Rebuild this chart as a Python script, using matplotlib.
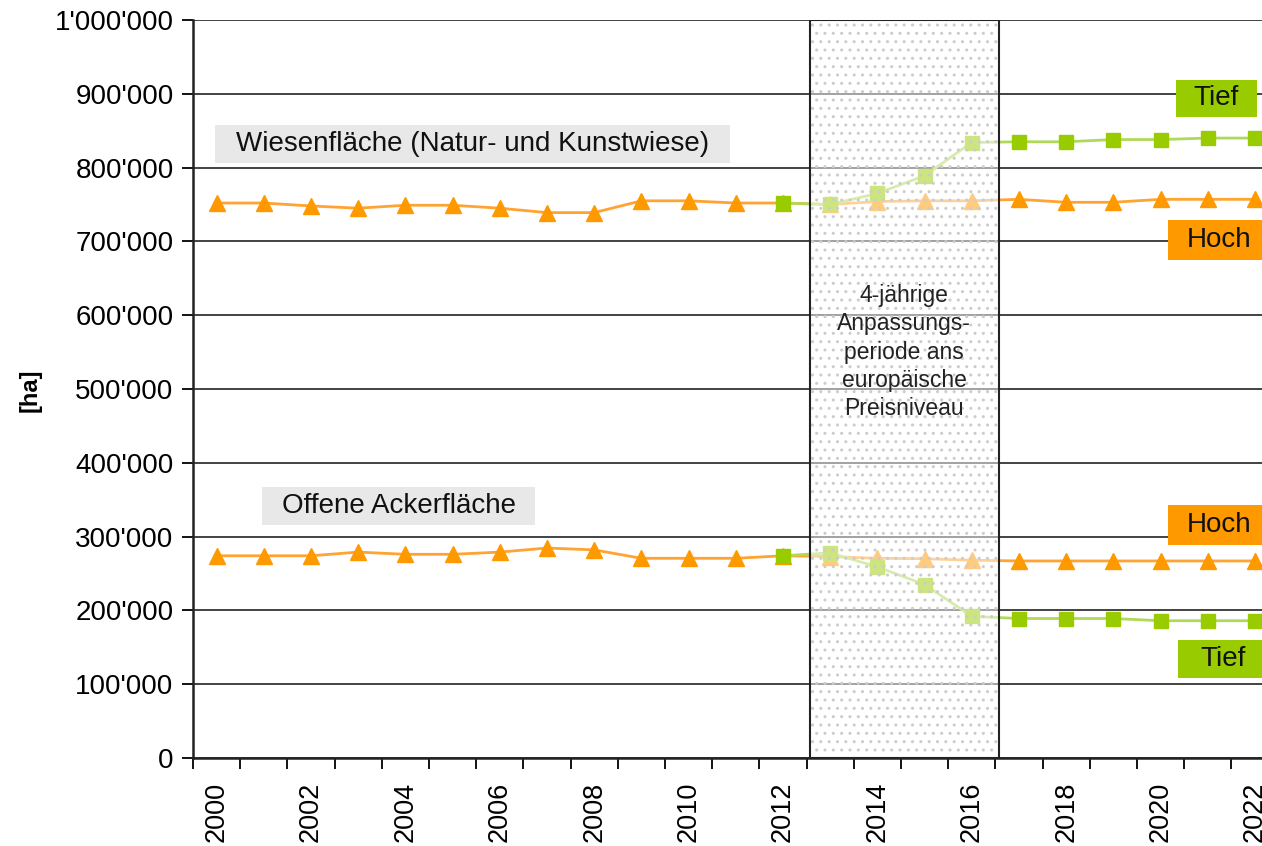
import matplotlib
matplotlib.use("Agg")
import matplotlib.pyplot as plt
from matplotlib.patches import Rectangle
from matplotlib.ticker import FuncFormatter

plt.rcParams['font.family'] = ['Liberation Sans', 'DejaVu Sans']

years = list(range(2000, 2023))
year_labels = [str(y) if y % 2 == 0 else "" for y in years]

# Wiesenflaeche (Natur- und Kunstwiese)
wiese_hoch = [752000, 752000, 748000, 745000, 749000, 749000, 745000, 739000, 739000,
              755000, 755000, 752000, 752000, 750000, 754000, 755000, 755000, 757000,
              753000, 753000, 757000, 757000, 757000]
wiese_tief = [752000, 750000, 765000, 789000, 834000, 835000, 835000, 838000, 838000,
              840000, 840000]

# Offene Ackerflaeche
acker_hoch = [274000, 274000, 274000, 279000, 276000, 276000, 279000, 284500, 282000,
              270600, 270600, 270600, 274000, 273000, 270600, 270000, 268000, 267000,
              267000, 267000, 267000, 267000, 267000]
acker_tief = [274000, 278000, 259000, 235000, 192000, 189000, 189000, 189000, 186000,
              186000, 186000]

orange = "#ff9900"
orange_line = "#ffa333"
green = "#99cc00"
green_line = "#b0d95a"

x_all = list(range(len(years)))
x_tief = x_all[12:]

fig = plt.figure(figsize=(12.62, 8.46), dpi=100)
ax = fig.add_axes([193 / 1262, 1 - 758 / 846, 1 - 193 / 1262, (758 - 20) / 846])

for hoch, tief in [(wiese_hoch, wiese_tief), (acker_hoch, acker_tief)]:
    ax.plot(x_all, hoch, color=orange_line, lw=2, marker="^", ms=11,
            mfc=orange, mec=orange, zorder=3)
    ax.plot(x_tief, tief, color=green_line, lw=2, marker="s", ms=10,
            mfc=green, mec=green, zorder=4)

ax.set_yticks(range(0, 1000001, 100000))
ax.yaxis.set_major_formatter(FuncFormatter(lambda v, p: f"{int(v):,}".replace(",", "'")))
ax.grid(axis="y", color="#222222", lw=1.2, zorder=1)
ax.set_axisbelow(True)

ax.set_xticks([i - 0.5 for i in range(len(years) + 1)])
ax.set_xticklabels([])
ax.set_xticks(x_all, minor=True)
ax.set_xticklabels(year_labels, minor=True, rotation=90, fontsize=19.5)
ax.tick_params(axis="x", which="major", length=8, width=1.3, direction="out")
ax.tick_params(axis="x", which="minor", length=0, pad=17)
ax.tick_params(axis="y", length=8, width=1.3, labelsize=20, pad=6)

# limits after ticks so the tick list does not widen them
ax.set_xlim(-0.5, 22.15)
ax.set_ylim(0, 1000000)

for s in ["top", "right"]:
    ax.spines[s].set_visible(False)
for s in ["left", "bottom"]:
    ax.spines[s].set_linewidth(1.8)
    ax.spines[s].set_color("#222222")

# 4-year adjustment period
ax.add_patch(Rectangle((12.57, 0), 4, 1000000, facecolor=(1, 1, 1, 0.5),
                       edgecolor="#cccccc", hatch="..", lw=0, zorder=5))
ax.add_patch(Rectangle((12.57, 0), 4, 1000000, facecolor="none",
                       edgecolor="#222222", lw=1.5, zorder=6))
ax.text(14.57, 550000, "4-jährige\nAnpassungs-\nperiode ans\neuropäische\nPreisniveau",
        ha="center", va="center", fontsize=16.5, color="#222222", linespacing=1.3, zorder=7)

# series label boxes
def label_box(x0, x1, y0, y1, text, color, size):
    ax.add_patch(Rectangle((x0, y0), x1 - x0, y1 - y0, facecolor=color,
                           edgecolor="none", zorder=8, clip_on=False))
    ax.text((x0 + x1) / 2, (y0 + y1) / 2, text, ha="center", va="center",
            fontsize=size, color="#111111", zorder=9)

label_box(-0.03, 10.88, 806000, 858000, "Wiesenfläche (Natur- und Kunstwiese)", "#e8e8e8", 20)
label_box(0.96, 6.75, 316000, 367000, "Offene Ackerfläche", "#e8e8e8", 20)
label_box(20.33, 22.04, 868600, 918700, "Tief", green, 20)
label_box(20.16, 22.3, 674800, 729000, "Hoch", orange, 20)
label_box(20.16, 22.3, 288600, 342800, "Hoch", orange, 20)
label_box(20.37, 22.3, 108400, 159900, "Tief", green, 20)

fig.text(30 / 1262, 1 - 390 / 846, "[ha]", rotation=90, ha="center", va="center",
         fontsize=17, fontweight="bold")

fig.savefig("out.png", dpi=100)
